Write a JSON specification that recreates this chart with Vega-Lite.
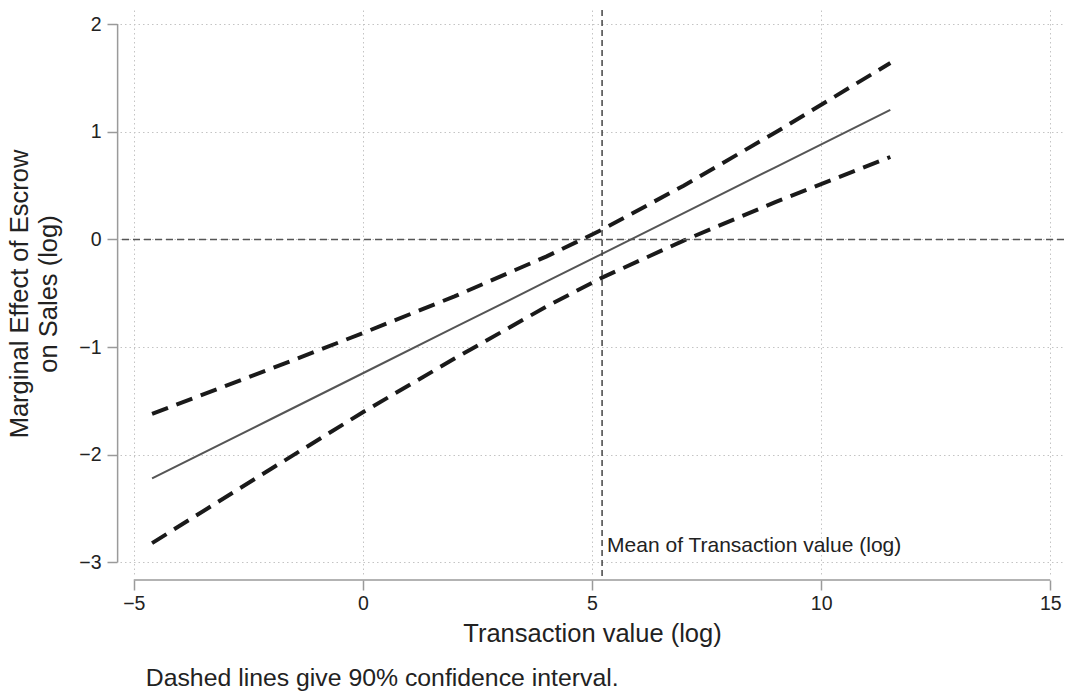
{
  "$schema": "https://vega.github.io/schema/vega-lite/v6.json",
  "width": 944,
  "height": 567,
  "autosize": "none",
  "padding": {"left": 120, "top": 10, "right": 2, "bottom": 119},
  "background": "white",
  "config": {
    "font": "Liberation Sans",
    "view": {"stroke": null},
    "axis": {
      "domain": false,
      "tickColor": "#9a9a9a",
      "tickWidth": 1.5,
      "tickSize": 10,
      "labelFontSize": 19.5,
      "labelColor": "#222222",
      "titleFontSize": 25.5,
      "titleFontWeight": "normal",
      "titleColor": "#222222",
      "gridColor": "#c4c4c4",
      "gridDash": [1.5, 3],
      "gridWidth": 1
    }
  },
  "title": {
    "text": "Dashed lines give 90% confidence interval.",
    "orient": "bottom",
    "anchor": "start",
    "dx": 138,
    "offset": 19,
    "fontSize": 24.8,
    "fontWeight": "normal",
    "color": "#222222"
  },
  "data": {
    "values": [
      {"x": -4.6, "est": -2.22, "upper": -1.62, "lower": -2.82},
      {"x": -2, "est": -1.668, "upper": -1.2, "lower": -2.13},
      {"x": 0, "est": -1.243, "upper": -0.87, "lower": -1.605},
      {"x": 2, "est": -0.818, "upper": -0.529, "lower": -1.107},
      {"x": 4, "est": -0.393, "upper": -0.16, "lower": -0.625},
      {"x": 5.22, "est": -0.134, "upper": 0.09, "lower": -0.355},
      {"x": 7, "est": 0.244, "upper": 0.499, "lower": -0.011},
      {"x": 9, "est": 0.669, "upper": 0.992, "lower": 0.346},
      {"x": 11.51, "est": 1.202, "upper": 1.638, "lower": 0.765}
    ]
  },
  "layer": [
    {
      "mark": {"type": "line", "color": "#555555", "strokeWidth": 2},
      "encoding": {
        "x": {
          "field": "x", "type": "quantitative",
          "scale": {"domain": [-5.3, 15.3], "nice": false, "zero": false},
          "axis": {"values": [-5, 0, 5, 10, 15], "format": "d", "title": "Transaction value (log)", "offset": 3, "labelPadding": 4, "titlePadding": 9, "grid": true}
        },
        "y": {
          "field": "est", "type": "quantitative",
          "scale": {"domain": [-3.135, 2.13], "nice": false, "zero": false},
          "axis": {"values": [-3, -2, -1, 0, 1, 2], "format": "d", "title": ["Marginal Effect of Escrow", "on Sales (log)"], "offset": 3, "labelPadding": 6, "titlePadding": 17, "titleLineHeight": 29, "grid": true}
        }
      }
    },
    {
      "mark": {"type": "line", "color": "#1a1a1a", "strokeWidth": 4, "strokeDash": [17, 9]},
      "encoding": {
        "x": {"field": "x", "type": "quantitative"},
        "y": {"field": "upper", "type": "quantitative"}
      }
    },
    {
      "mark": {"type": "line", "color": "#1a1a1a", "strokeWidth": 4, "strokeDash": [17, 9]},
      "encoding": {
        "x": {"field": "x", "type": "quantitative"},
        "y": {"field": "lower", "type": "quantitative"}
      }
    },
    {
      "data": {"values": [{}]},
      "mark": {"type": "rule", "color": "#555555", "strokeWidth": 1.5, "strokeDash": [7, 4]},
      "encoding": {"y": {"datum": 0, "type": "quantitative"}}
    },
    {
      "data": {"values": [{}]},
      "mark": {"type": "rule", "color": "#444444", "strokeWidth": 1.5, "strokeDash": [6, 4]},
      "encoding": {"x": {"datum": 5.22, "type": "quantitative"}}
    },
    {
      "data": {"values": [{}]},
      "mark": {"type": "text", "align": "left", "baseline": "middle", "dx": 5, "fontSize": 21, "color": "#222222"},
      "encoding": {
        "x": {"datum": 5.22, "type": "quantitative"},
        "y": {"datum": -2.85, "type": "quantitative"},
        "text": {"value": "Mean of Transaction value (log)"}
      }
    },
    {
      "data": {"values": [{}]},
      "mark": {"type": "rule", "color": "#9a9a9a", "strokeWidth": 1.5, "clip": false},
      "encoding": {
        "x": {"datum": -5.352, "type": "quantitative"},
        "y": {"datum": -3, "type": "quantitative"},
        "y2": {"datum": 2}
      }
    },
    {
      "data": {"values": [{}]},
      "mark": {"type": "rule", "color": "#9a9a9a", "strokeWidth": 1.5, "clip": false},
      "encoding": {
        "y": {"datum": -3.163, "type": "quantitative"},
        "x": {"datum": -5, "type": "quantitative"},
        "x2": {"datum": 15}
      }
    }
  ]
}
